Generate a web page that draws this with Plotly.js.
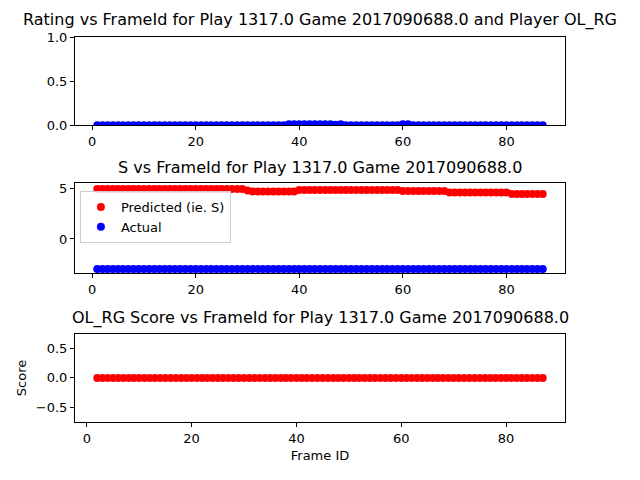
<html><head><script src="https://cdn.plot.ly/plotly-3.0.1.min.js"></script></head>
<body style="margin:0"><div id="plot" style="width:640px;height:480px"></div>
<script>
var frames = [1,2,3,4,5,6,7,8,9,10,11,12,13,14,15,16,17,18,19,20,21,22,23,24,25,26,27,28,29,30,31,32,33,34,35,36,37,38,39,40,41,42,43,44,45,46,47,48,49,50,51,52,53,54,55,56,57,58,59,60,61,62,63,64,65,66,67,68,69,70,71,72,73,74,75,76,77,78,79,80,81,82,83,84,85,86,87];
var rating = [0,0,0,0,0,0,0,0,0,0,0,0,0,0,0,0,0,0,0,0,0,0,0,0,0,0,0,0,0,0,0,0,0,0,0,0,0,0.01,0.01,0.01,0.01,0.01,0.01,0.01,0.01,0.01,0.005,0.01,0,0,0,0,0,0,0,0,0,0,0,0.01,0.01,0,0,0,0,0,0,0,0,0,0,0,0,0,0,0,0,0,0,0,0,0,0,0,0,0,0];
var predicted = [5.0,5.0,5.0,5.0,5.0,5.0,5.0,5.0,5.0,5.0,5.0,5.0,5.0,5.0,5.0,5.0,5.0,5.0,5.0,5.0,5.0,5.0,5.0,5.0,5.0,5.0,5.0,5.0,5.0,4.85,4.75,4.75,4.75,4.75,4.75,4.75,4.75,4.75,4.75,4.9,4.9,4.9,4.9,4.9,4.9,4.9,4.9,4.9,4.9,4.9,4.9,4.9,4.9,4.9,4.9,4.9,4.9,4.9,4.9,4.8,4.8,4.8,4.8,4.8,4.8,4.8,4.8,4.8,4.65,4.65,4.65,4.65,4.65,4.65,4.65,4.65,4.65,4.65,4.65,4.65,4.5,4.5,4.5,4.5,4.5,4.5,4.5];
var actual = [-3,-3,-3,-3,-3,-3,-3,-3,-3,-3,-3,-3,-3,-3,-3,-3,-3,-3,-3,-3,-3,-3,-3,-3,-3,-3,-3,-3,-3,-3,-3,-3,-3,-3,-3,-3,-3,-3,-3,-3,-3,-3,-3,-3,-3,-3,-3,-3,-3,-3,-3,-3,-3,-3,-3,-3,-3,-3,-3,-3,-3,-3,-3,-3,-3,-3,-3,-3,-3,-3,-3,-3,-3,-3,-3,-3,-3,-3,-3,-3,-3,-3,-3,-3,-3,-3,-3];
var scoreFrames = frames.slice(1);
var score = [0,0,0,0,0,0,0,0,0,0,0,0,0,0,0,0,0,0,0,0,0,0,0,0,0,0,0,0,0,0,0,0,0,0,0,0,0,0,0,0,0,0,0,0,0,0,0,0,0,0,0,0,0,0,0,0,0,0,0,0,0,0,0,0,0,0,0,0,0,0,0,0,0,0,0,0,0,0,0,0,0,0,0,0,0,0];

var mk = function (c) { return {color: c, size: 8}; };
var data = [
  {x: frames, y: rating, mode: 'markers', marker: mk('blue'), xaxis: 'x', yaxis: 'y', showlegend: false},
  {x: frames, y: predicted, mode: 'markers', marker: mk('red'), xaxis: 'x2', yaxis: 'y2', name: 'Predicted (ie. S)'},
  {x: frames, y: actual, mode: 'markers', marker: mk('blue'), xaxis: 'x2', yaxis: 'y2', name: 'Actual'},
  {x: scoreFrames, y: score, mode: 'markers', marker: mk('red'), xaxis: 'x3', yaxis: 'y3', showlegend: false}
];
var ax = function (extra) {
  return Object.assign({showline: true, mirror: true, linecolor: 'black', showgrid: false, zeroline: false,
    ticks: 'outside', ticklen: 4, tickcolor: 'black'}, extra);
};
var layout = {
  width: 640, height: 480, margin: {l: 75, r: 75, t: 37, b: 58},
  font: {family: 'DejaVu Sans', size: 13, color: 'black'},
  plot_bgcolor: 'white', paper_bgcolor: 'white',
  xaxis: ax({domain: [0, 1], anchor: 'y', range: [-3.3, 91.3], dtick: 20}),
  yaxis: ax({domain: [0.771, 1], range: [0, 1], tickvals: [0, 0.5, 1], ticktext: ['0.0', '0.5', '1.0']}),
  xaxis2: ax({domain: [0, 1], anchor: 'y2', range: [-3.3, 91.3], dtick: 20}),
  yaxis2: ax({domain: [0.387, 0.621], range: [-3.4, 5.6], tickvals: [0, 5]}),
  xaxis3: ax({domain: [0, 1], anchor: 'y3', range: [-2.25, 91.25], dtick: 20, title: {text: 'Frame ID', font: {size: 13}, standoff: 6}}),
  yaxis3: ax({domain: [0, 0.229], range: [-0.75, 0.75], tickvals: [-0.5, 0, 0.5], ticktext: ['\u22120.5', '0.0', '0.5'], title: {text: 'Score', font: {size: 13}, standoff: 6}}),
  legend: {x: 0.01, y: 0.6, xanchor: 'left', yanchor: 'top', bgcolor: 'rgba(255,255,255,0.8)', bordercolor: '#ccc', borderwidth: 1, font: {size: 13}},
  annotations: [
    {text: 'Rating vs FrameId for Play 1317.0 Game 2017090688.0 and Player OL_RG', xref: 'paper', yref: 'paper', x: 0.5, y: 1.012, yanchor: 'bottom', showarrow: false, font: {size: 16}},
    {text: 'S vs FrameId for Play 1317.0 Game 2017090688.0', xref: 'paper', yref: 'paper', x: 0.5, y: 0.63, yanchor: 'bottom', showarrow: false, font: {size: 16}},
    {text: 'OL_RG Score vs FrameId for Play 1317.0 Game 2017090688.0', xref: 'paper', yref: 'paper', x: 0.5, y: 0.238, yanchor: 'bottom', showarrow: false, font: {size: 16}}
  ]
};
Plotly.newPlot('plot', data, layout, {displayModeBar: false});
</script></body></html>
